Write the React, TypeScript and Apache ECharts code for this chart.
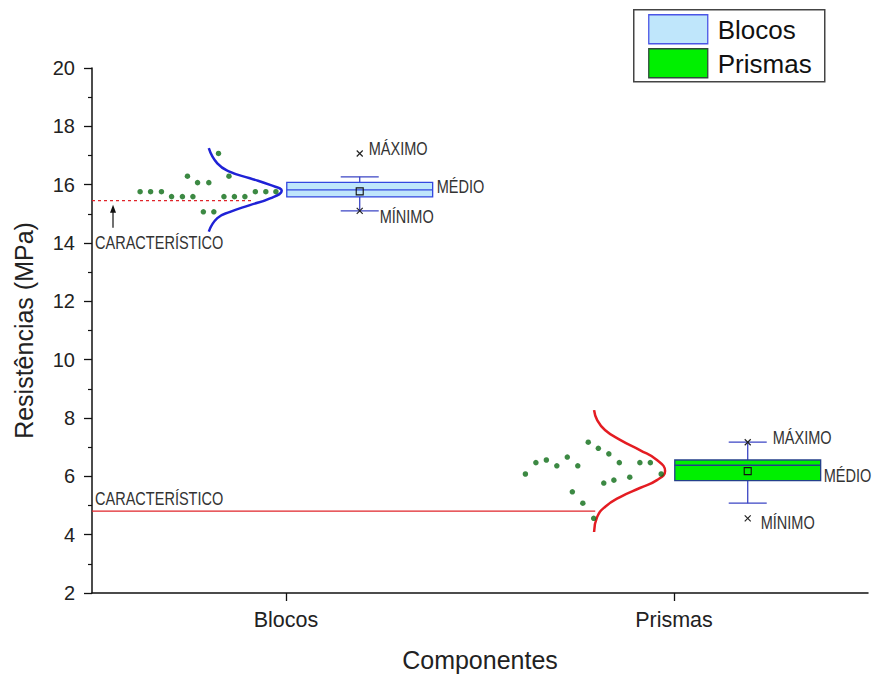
import React, { useEffect, useRef } from 'react';
import * as echarts from 'echarts';

// Categories on the x axis (positions 1 and 2 of a value axis)
const components = ['Blocos', 'Prismas'];

// Box statistics per component (MPa)
const q1 = [15.58, 5.85];
const medians = [15.82, 6.38];
const q3 = [16.08, 6.56];
const whiskerLow = [15.1, 5.08];
const whiskerHigh = [16.27, 7.17];
const means = [15.77, 6.18];
const maxima = [17.07, 7.17];
const minima = [15.1, 4.56];

// Characteristic strength per component (MPa)
const characteristic = [15.45, 4.81];

// Individual results, [x position, resistance]
const blocosPoints = [
  [0.826, 17.07],
  [0.746, 16.29], [0.853, 16.29],
  [0.772, 16.07], [0.801, 16.07],
  [0.624, 15.76], [0.651, 15.76], [0.679, 15.76], [0.921, 15.76], [0.948, 15.76], [0.974, 15.76],
  [0.705, 15.59], [0.733, 15.59], [0.76, 15.59], [0.84, 15.59], [0.867, 15.59], [0.894, 15.59],
  [0.787, 15.07], [0.814, 15.07],
];
const prismasPoints = [
  [1.779, 7.17],
  [1.805, 6.96],
  [1.832, 6.77],
  [1.725, 6.66],
  [1.671, 6.56],
  [1.644, 6.47], [1.859, 6.47], [1.912, 6.47], [1.939, 6.47],
  [1.698, 6.36], [1.752, 6.36],
  [1.617, 6.08], [1.967, 6.08],
  [1.886, 5.97],
  [1.845, 5.87],
  [1.819, 5.77],
  [1.738, 5.47],
  [1.765, 5.08],
  [1.793, 4.56],
];

// Fitted distribution outlines, [x position, resistance]
const blocosCurve = [
  [0.801, 17.25], [0.823, 16.73], [0.856, 16.44], [0.907, 16.22], [0.959, 15.99],
  [0.989, 15.79],
  [0.959, 15.53], [0.907, 15.3], [0.856, 15.07], [0.823, 14.85], [0.801, 14.39],
];
const prismasCurve = [
  [1.794, 8.27], [1.802, 7.93], [1.822, 7.59], [1.861, 7.25], [1.912, 6.9], [1.956, 6.56],
  [1.977, 6.18],
  [1.956, 5.87], [1.912, 5.6], [1.861, 5.29], [1.822, 4.95], [1.802, 4.61], [1.794, 4.09],
];

const yTicks = [2, 4, 6, 8, 10, 12, 14, 16, 18, 20];

const FONT = 'Arial, "Liberation Sans", sans-serif';
// annotation texts are drawn condensed
const NARROW_SCALE = 0.83;

const boxStyles = [
  { fill: '#bfe6fb', stroke: '#3347e0', whisker: '#3b45c4' },
  { fill: '#00f000', stroke: '#24408a', whisker: '#3b45c4' },
];
// label offsets in px: [dx, dy]
const labelOffsets = {
  max: [[9, -5], [25, -5]],
  mean: [[4, -3], [3, 5]],
  min: [[20, 6], [13, 4]],
};
const BOX_OFFSET = 0.19;
const BOX_HALF = 0.188;
const CAP_HALF = 0.049;
const charLineEnd = [0.912, 1.797];

function cross(cx: number, cy: number, s: number, color: string) {
  return [
    { type: 'line', shape: { x1: cx - s, y1: cy - s, x2: cx + s, y2: cy + s }, style: { stroke: color, lineWidth: 1.2 } },
    { type: 'line', shape: { x1: cx - s, y1: cy + s, x2: cx + s, y2: cy - s }, style: { stroke: color, lineWidth: 1.2 } },
  ];
}

function label(text: string, x: number, y: number) {
  return {
    type: 'text',
    x,
    y,
    scaleX: NARROW_SCALE,
    style: { text, fontSize: 17.5, fontFamily: FONT, fill: '#333', align: 'left', verticalAlign: 'middle' },
  };
}

const boxData = components.map((_, i) => [
  i + 1 + BOX_OFFSET,
  whiskerLow[i],
  q1[i],
  medians[i],
  q3[i],
  whiskerHigh[i],
  means[i],
  maxima[i],
  minima[i],
]);

const characteristicData = components.map((_, i) => [0.5, characteristic[i]]);

export default function App() {
  const ref = useRef<HTMLDivElement>(null);

  useEffect(() => {
    document.body.style.margin = '0';
    if (!ref.current) return;
    const chart = echarts.init(ref.current, null, { renderer: 'svg' });

    const renderBox = (params: any, api: any) => {
      const i = params.dataIndex;
      const st = boxStyles[i];
      const xc = api.value(0);
      const [wl, b1, med, b3, wh, mean, mx, mn] = [1, 2, 3, 4, 5, 6, 7, 8].map((k) => api.value(k));
      const tl = api.coord([xc - BOX_HALF, b3]);
      const br = api.coord([xc + BOX_HALF, b1]);
      const cx = api.coord([xc, med])[0];
      const capL = api.coord([xc - CAP_HALF, wl])[0];
      const capR = api.coord([xc + CAP_HALF, wl])[0];
      const yWl = api.coord([xc, wl])[1];
      const yWh = api.coord([xc, wh])[1];
      const yMed = api.coord([xc, med])[1];
      const yMean = api.coord([xc, mean])[1];
      const yMax = api.coord([xc, mx])[1];
      const yMin = api.coord([xc, mn])[1];
      const wStyle = { stroke: st.whisker, lineWidth: 1.3 };
      const children: any[] = [
        { type: 'line', shape: { x1: cx, y1: yWh, x2: cx, y2: tl[1] }, style: wStyle },
        { type: 'line', shape: { x1: cx, y1: br[1], x2: cx, y2: yWl }, style: wStyle },
        { type: 'line', shape: { x1: capL, y1: yWh, x2: capR, y2: yWh }, style: wStyle },
        { type: 'line', shape: { x1: capL, y1: yWl, x2: capR, y2: yWl }, style: wStyle },
        {
          type: 'rect',
          shape: { x: tl[0], y: tl[1], width: br[0] - tl[0], height: br[1] - tl[1] },
          style: { fill: st.fill, stroke: st.stroke, lineWidth: 1.3 },
        },
        { type: 'line', shape: { x1: tl[0], y1: yMed, x2: br[0], y2: yMed }, style: { stroke: st.stroke, lineWidth: 1.3 } },
        {
          type: 'rect',
          shape: { x: cx - 3.5, y: yMean - 3.5, width: 7, height: 7 },
          style: { fill: 'none', stroke: '#111', lineWidth: 1.1 },
        },
        ...cross(cx, yMax, 3, '#222'),
        ...cross(cx, yMin, 3, '#222'),
        label('MÁXIMO', cx + labelOffsets.max[i][0], yMax + labelOffsets.max[i][1]),
        label('MÉDIO', br[0] + labelOffsets.mean[i][0], (tl[1] + br[1]) / 2 + labelOffsets.mean[i][1]),
        label('MÍNIMO', cx + labelOffsets.min[i][0], yMin + labelOffsets.min[i][1]),
      ];
      return { type: 'group', children };
    };

    const renderCharacteristic = (params: any, api: any) => {
      const i = params.dataIndex;
      const v = api.value(1);
      const start = api.coord([api.value(0), v]);
      const end = api.coord([charLineEnd[i], v]);
      const children: any[] = [
        {
          type: 'line',
          shape: { x1: start[0], y1: start[1], x2: end[0], y2: end[1] },
          style: { stroke: '#e0242a', lineWidth: 1.2, lineDash: i === 0 ? [3, 3] : null },
        },
      ];
      if (i === 0) {
        const ax = start[0] + 21;
        children.push(
          { type: 'line', shape: { x1: ax, y1: start[1] + 27, x2: ax, y2: start[1] + 8 }, style: { stroke: '#111', lineWidth: 1.2 } },
          {
            type: 'polygon',
            shape: { points: [[ax, start[1] + 4], [ax - 3, start[1] + 12], [ax + 3, start[1] + 12]] },
            style: { fill: '#111' },
          },
          label('CARACTERÍSTICO', start[0] + 3, start[1] + 42),
        );
      } else {
        children.push(label('CARACTERÍSTICO', start[0] + 3, start[1] - 13));
      }
      return { type: 'group', children };
    };

    chart.setOption({
      animation: false,
      backgroundColor: '#fff',
      grid: { left: 92, right: 6, top: 68, bottom: 84, containLabel: false },
      xAxis: {
        type: 'value',
        min: 0.5,
        max: 2.5,
        name: 'Componentes',
        nameLocation: 'middle',
        nameGap: 54,
        nameTextStyle: { fontSize: 25, fontFamily: FONT, color: '#222' },
        axisLine: { show: true, lineStyle: { color: '#111', width: 1.5 } },
        axisTick: { show: true, customValues: [1, 2], length: 8, lineStyle: { color: '#111', width: 1.3 } },
        axisLabel: {
          customValues: [1, 2],
          formatter: (v: number) => components[Math.round(v) - 1] ?? '',
          fontSize: 21.5,
          fontFamily: FONT,
          color: '#222',
          margin: 16,
        },
        splitLine: { show: false },
      },
      yAxis: {
        type: 'value',
        min: yTicks[0],
        max: yTicks[yTicks.length - 1],
        interval: 2,
        name: 'Resistências (MPa)',
        nameLocation: 'middle',
        nameGap: 56,
        nameTextStyle: { fontSize: 25, fontFamily: FONT, color: '#222' },
        axisLine: { show: true, lineStyle: { color: '#111', width: 1.5 } },
        axisTick: { show: true, length: 8, lineStyle: { color: '#111', width: 1.3 } },
        minorTick: { show: true, splitNumber: 2, length: 4, lineStyle: { color: '#111', width: 1.2 } },
        axisLabel: { fontSize: 20, fontFamily: FONT, color: '#222', margin: 17 },
        splitLine: { show: false },
      },
      series: [
        {
          type: 'custom',
          name: 'CARACTERÍSTICO',
          renderItem: renderCharacteristic,
          data: characteristicData,
          encode: { x: 0, y: 1 },
          clip: false,
          z: 1,
        },
        {
          type: 'line',
          name: 'Blocos curva',
          data: blocosCurve,
          smooth: 0.5,
          showSymbol: false,
          lineStyle: { color: '#1f22d6', width: 2.5 },
          z: 2,
        },
        {
          type: 'line',
          name: 'Prismas curva',
          data: prismasCurve,
          smooth: 0.5,
          showSymbol: false,
          lineStyle: { color: '#e41c22', width: 2.5 },
          z: 2,
        },
        {
          type: 'scatter',
          name: 'Blocos pontos',
          data: blocosPoints,
          symbol: 'circle',
          symbolSize: 5.5,
          itemStyle: { color: '#0b6b14' },
          z: 3,
        },
        {
          type: 'scatter',
          name: 'Prismas pontos',
          data: prismasPoints,
          symbol: 'circle',
          symbolSize: 5.5,
          itemStyle: { color: '#0b6b14' },
          z: 3,
        },
        {
          type: 'custom',
          name: 'Caixas',
          renderItem: renderBox,
          data: boxData,
          encode: { x: 0, y: [1, 2, 3, 4, 5, 6, 7, 8] },
          clip: false,
          z: 4,
        },
      ],
      graphic: [
        {
          type: 'group',
          left: 633,
          top: 9,
          z: 10,
          children: [
            { type: 'rect', shape: { x: 0, y: 0, width: 191, height: 72 }, style: { fill: '#fff', stroke: '#444', lineWidth: 1.5 } },
            { type: 'rect', shape: { x: 15, y: 5, width: 59, height: 29 }, style: { fill: boxStyles[0].fill, stroke: '#4a55e6', lineWidth: 1.3 } },
            {
              type: 'text',
              x: 84,
              y: 20,
              style: { text: components[0], fontSize: 26, fontFamily: FONT, fill: '#111', verticalAlign: 'middle' },
            },
            { type: 'rect', shape: { x: 15, y: 39, width: 59, height: 29 }, style: { fill: '#00f000', stroke: '#2e4a3a', lineWidth: 1.3 } },
            {
              type: 'text',
              x: 84,
              y: 54,
              style: { text: components[1], fontSize: 26, fontFamily: FONT, fill: '#111', verticalAlign: 'middle' },
            },
          ],
        },
      ],
    });

    return () => chart.dispose();
  }, []);

  return <div ref={ref} style={{ width: 874, height: 677 }} />;
}
